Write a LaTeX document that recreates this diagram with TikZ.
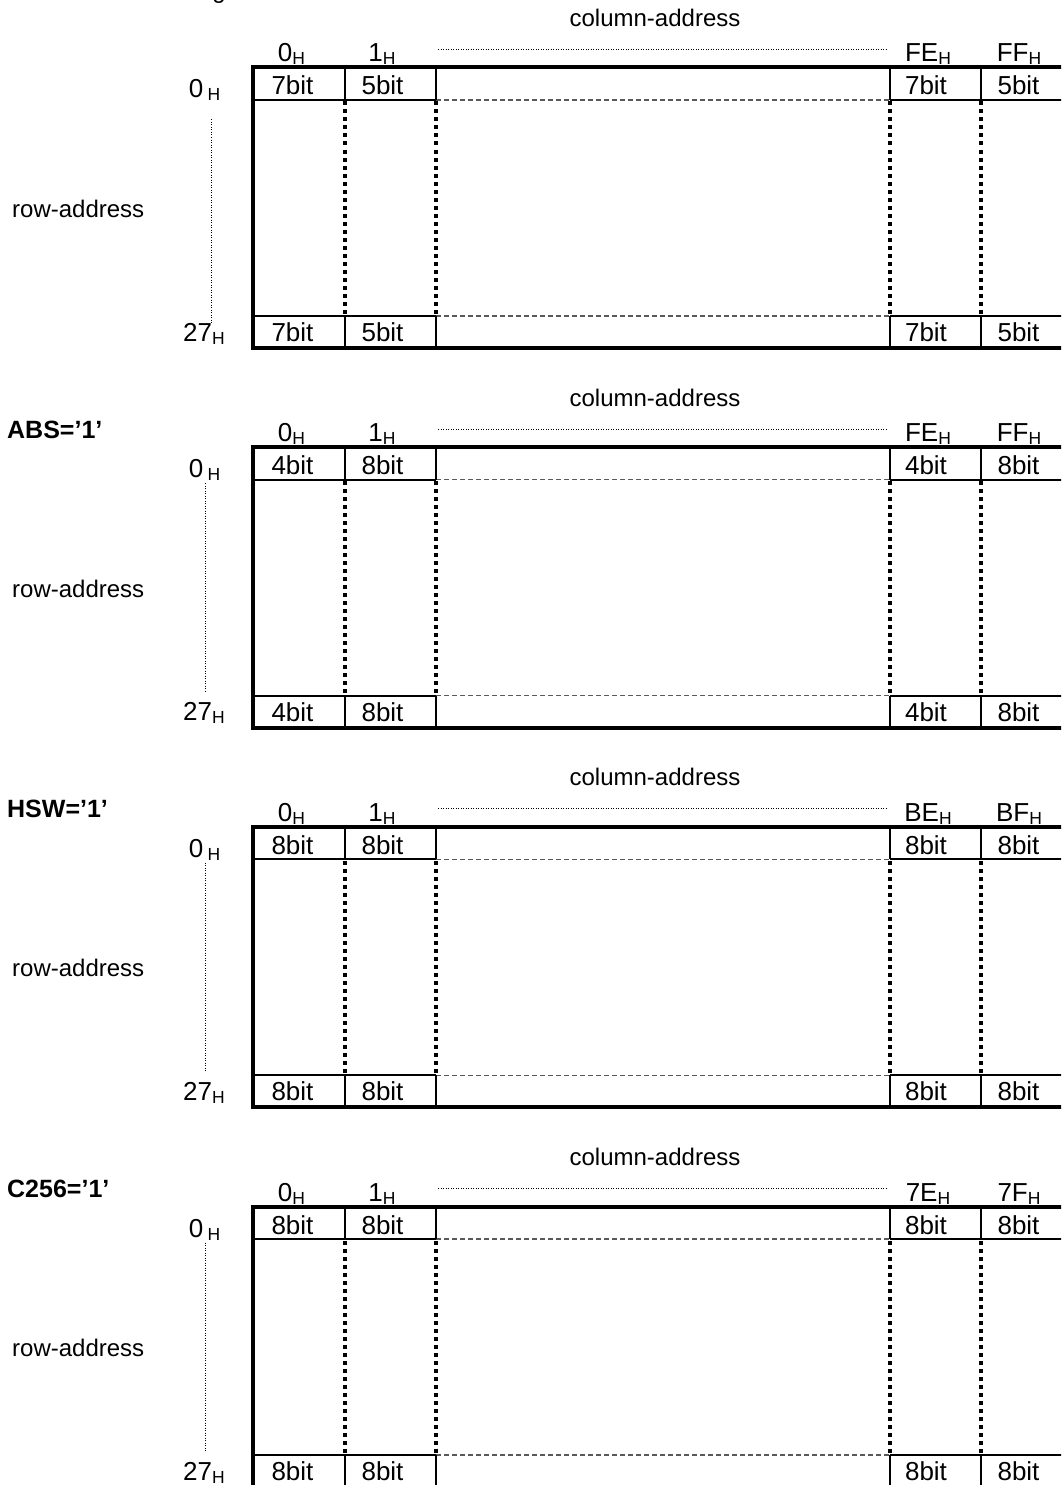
\documentclass[tikz,border=0pt]{standalone}
\usepackage{fontspec}
\setmainfont{Liberation Sans}
\newcommand\subH{\raisebox{-3pt}{\fontsize{17.5}{17.5}\selectfont H}}
\begin{document}
\begin{tikzpicture}[x=1pt,y=-1pt,
  txt/.style={font=\fontsize{24}{28}\selectfont, inner sep=0pt, anchor=base},
  bitlbl/.style={font=\fontsize{26}{28}\selectfont, inner sep=0pt, anchor=base},
  collbl/.style={font=\fontsize{26}{28}\selectfont, inner sep=0pt, anchor=base},
  panellbl/.style={font=\fontsize{25}{28}\selectfont\bfseries, inner sep=0pt, anchor=base west},
  frameline/.style={line width=4pt, line join=miter},
  cellline/.style={line width=2pt},
  dotcol/.style={line width=3.2pt, dash pattern=on 4pt off 4pt},
  dashrow/.style={line width=1.3pt, draw=black!65, dash pattern=on 5pt off 3pt},
  guide/.style={line width=1pt, dash pattern=on 1pt off 1.5pt},
]
\useasboundingbox (0,0) rectangle (1061,1485);
\clip (0,0) rectangle (1061,1485);
\node[txt] (topg) at (219,-1) {g};
\foreach \k/\pl/\cc/\cd/\ba/\bb/\gx/\gs/\ge in {
   0/{}/FE/FF/7/5/211/52/255,
   1/{ABS=’1’}/FE/FF/4/8/205/36/246,
   2/{HSW=’1’}/BE/BF/8/8/205/36/246,
   3/{C256=’1’}/7E/7F/8/8/205/36/246}{
  \pgfmathsetmacro\T{67.5+379.7*\k}
  \begin{scope}[shift={(0,\T)}]
    % frame
    \draw[frameline] (1075,0) -- (253,0) -- (253,280.5) -- (1075,280.5);
    % row lines
    \draw[cellline] (253,32.5) -- (436,32.5) (890,32.5) -- (1075,32.5);
    \draw[cellline] (253,248.5) -- (436,248.5) (890,248.5) -- (1075,248.5);
    \draw[dashrow] (436,32.5) -- (890,32.5) (436,248.5) -- (890,248.5);
    % column separators
    \foreach \x in {345,436,890,981}{
      \draw[cellline] (\x,0) -- (\x,32.5) (\x,248.5) -- (\x,280.5);
      \draw[dotcol] (\x,34) -- (\x,248.5);
    }
    % labels
    \node[panellbl] (pl-\k) at (7,-9) {\pl};
    \node[txt] (ca-\k) at (655,-41) {column-address};
    \node[collbl] (c0-\k) at (291.5,-5.5) {0\subH};
    \node[collbl] (c1-\k) at (382,-5.5) {1\subH};
    \node[collbl] (c2-\k) at (928,-5.5) {\cc\subH};
    \node[collbl] (c3-\k) at (1019,-5.5) {\cd\subH};
    \coordinate (gl-\k) at (438,-18);
    \coordinate (gr-\k) at (888,-18);
    \draw[guide] (gl-\k) -- (gr-\k);
    \node[collbl] (r0-\k) at (204.5,30.5) {0\,\subH};
    \node[collbl] (r1-\k) at (204,273.5) {27\subH};
    \coordinate (vt-\k) at (\gx,\gs);
    \coordinate (vb-\k) at (\gx,\ge);
    \draw[guide] (vt-\k) -- (vb-\k);
    \node[txt, anchor=base west] (ra-\k) at (12,150) {row-address};
    \node[bitlbl] (b00-\k) at (292.5,27.5) {\ba bit};
    \node[bitlbl] (b01-\k) at (382.5,27.5) {\bb bit};
    \node[bitlbl] (b02-\k) at (926,27.5) {\ba bit};
    \node[bitlbl] (b03-\k) at (1018.5,27.5) {\bb bit};
    \node[bitlbl] (b10-\k) at (292.5,274) {\ba bit};
    \node[bitlbl] (b11-\k) at (382.5,274) {\bb bit};
    \node[bitlbl] (b12-\k) at (926,274) {\ba bit};
    \node[bitlbl] (b13-\k) at (1018.5,274) {\bb bit};
  \end{scope}
}
\end{tikzpicture}
\end{document}
